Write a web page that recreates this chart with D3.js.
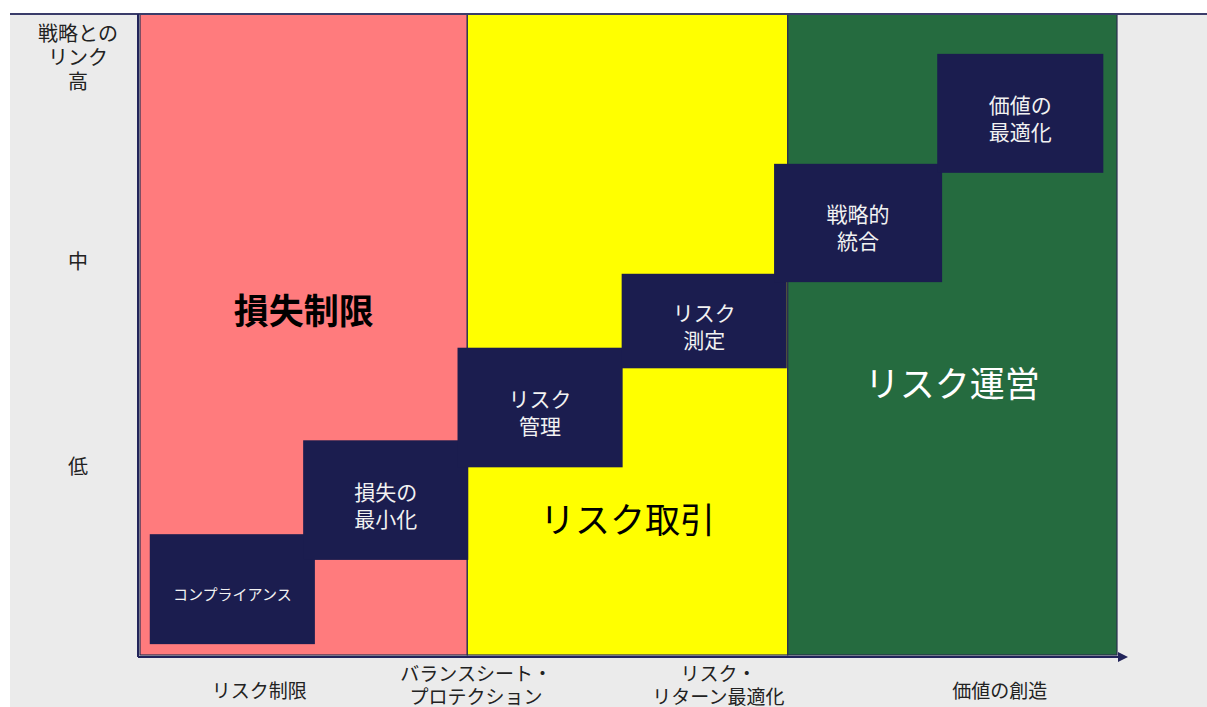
<!DOCTYPE html>
<html>
<head>
<meta charset="utf-8">
<script src="https://cdn.jsdelivr.net/npm/d3@7"></script>
<style>
    body { margin: 0; background: #ffffff; }
    text { font-family: "Noto Sans CJK JP", "Noto Sans", sans-serif; }
</style>
</head>
<body>
<div id="chart"></div>
<script>

// bands (x in percent of the horizontal axis)
const bandNames = ["損失制限", "リスク取引", "リスク運営"];
const bandStart = [0, 33.5, 66.3];
const bandEnd = [33.5, 66.3, 100];
const bandColors = ["#ff7b7d", "#ffff00", "#256b3f"];
const bandTextColors = ["#000000", "#000000", "#ffffff"];
const bandLabelY = [54.2, 21.7, 42.9];

// steps (x and y in percent of the axes)
const stepLabels = [["コンプライアンス"], ["損失の", "最小化"], ["リスク", "管理"],
    ["リスク", "測定"], ["戦略的", "統合"], ["価値の", "最適化"]];
const stepX0 = [1.0, 16.7, 32.5, 49.3, 64.9, 81.6];
const stepX1 = [17.9, 33.6, 49.4, 66.2, 82.1, 98.6];
const stepY0 = [2.0, 15.1, 29.5, 44.9, 58.3, 75.3];
const stepY1 = [19.1, 33.7, 48.1, 59.6, 76.7, 93.8];

// axis labels
const yTickLabels = [["戦略との", "リンク", "高"], ["中"], ["低"]];
const yTickValues = [89.7, 61.7, 29.9];
const xTickLabels = [["リスク制限"], ["バランスシート・", "プロテクション"],
    ["リスク・", "リターン最適化"], ["価値の創造"]];
const xTickValues = [12.2, 34.4, 59.2, 88.0];

const W = 1207, H = 707;
const margin = {top: 14, right: 90, bottom: 50, left: 140};

let svg = d3.select("#chart").append("svg")
    .attr("width", W)
    .attr("height", H);

// page background
svg.append("rect").attr("x", 10).attr("y", 14)
    .attr("width", W - 10).attr("height", H - 14)
    .attr("fill", "#ebebeb");

let x = d3.scaleLinear().domain([0, 100]).range([margin.left, W - margin.right]);
let y = d3.scaleLinear().domain([0, 100]).range([H - margin.bottom, margin.top]);

// multi-line text as one element with tspans; (cx, yLast) = last line centre
function multiText(g, lines, cx, yFirst, lh, fs, fill) {
    let t = g.append("text")
        .attr("x", cx).attr("y", yFirst)
        .attr("text-anchor", "middle")
        .attr("dominant-baseline", "central")
        .attr("font-size", fs)
        .attr("fill", fill);
    lines.forEach((s, j) => {
        t.append("tspan")
            .attr("x", cx)
            .attr("dy", j === 0 ? 0 : lh)
            .text(s);
    });
    return t;
}

// arrow marker
svg.append("defs").append("marker")
    .attr("id", "arrow")
    .attr("viewBox", "0 0 10 10")
    .attr("refX", 2).attr("refY", 5)
    .attr("markerWidth", 5).attr("markerHeight", 5)
    .attr("orient", "auto")
    .append("path")
    .attr("d", "M0,0 L10,5 L0,10 Z")
    .attr("fill", "#22245a");

// bands
let bands = svg.append("g").attr("class", "bands");
bandNames.forEach((name, i) => {
    bands.append("rect")
        .attr("x", x(bandStart[i]))
        .attr("y", y(100))
        .attr("width", x(bandEnd[i]) - x(bandStart[i]))
        .attr("height", y(0) - y(100) - 2)
        .attr("fill", bandColors[i])
        .attr("stroke", "#2a2d4f")
        .attr("stroke-width", 1.2);
});

// steps
let steps = svg.append("g").attr("class", "steps");
stepLabels.forEach((lines, i) => {
    steps.append("rect")
        .attr("x", x(stepX0[i]))
        .attr("y", y(stepY1[i]))
        .attr("width", x(stepX1[i]) - x(stepX0[i]))
        .attr("height", y(stepY0[i]) - y(stepY1[i]))
        .attr("fill", "#1b1d4f");

    let cx = (x(stepX0[i]) + x(stepX1[i])) / 2;
    let cy = (y(stepY0[i]) + y(stepY1[i])) / 2 + 4;
    let fs = lines[0].length > 4 ? 15 : 21;
    let lh = 27;
    multiText(steps, lines, cx, cy - (lines.length - 1) / 2 * lh, lh, fs, "#f2f2f2");
});

// band titles
bandNames.forEach((name, i) => {
    svg.append("text")
        .attr("x", (x(bandStart[i]) + x(bandEnd[i])) / 2)
        .attr("y", y(bandLabelY[i]))
        .attr("text-anchor", "middle")
        .attr("dominant-baseline", "central")
        .attr("font-size", 35)
        .attr("font-weight", i === 0 ? "bold" : "normal")
        .attr("fill", bandTextColors[i])
        .text(name);
});

// axes lines
svg.append("line")
    .attr("x1", 10).attr("x2", W)
    .attr("y1", y(100)).attr("y2", y(100))
    .attr("stroke", "#3a3c6a").attr("stroke-width", 2);
svg.append("line")
    .attr("x1", x(0) - 2).attr("x2", x(0) - 2)
    .attr("y1", y(100)).attr("y2", y(0))
    .attr("stroke", "#22245a").attr("stroke-width", 2);
svg.append("line")
    .attr("x1", x(0) - 2).attr("x2", x(100) + 3)
    .attr("y1", y(0)).attr("y2", y(0))
    .attr("stroke", "#22245a").attr("stroke-width", 2)
    .attr("marker-end", "url(#arrow)");

// y labels (last line sits on the tick value)
let yLab = svg.append("g").attr("class", "y-labels");
yTickLabels.forEach((lines, i) => {
    let lh = 24;
    multiText(yLab, lines, 78, y(yTickValues[i]) - (lines.length - 1) * lh, lh, 20, "#222");
});

// x labels
let xLab = svg.append("g").attr("class", "x-labels");
xTickLabels.forEach((lines, i) => {
    multiText(xLab, lines, x(xTickValues[i]), lines.length > 1 ? 672 : 689, 23, 19, "#222");
});

</script>
</body>
</html>
